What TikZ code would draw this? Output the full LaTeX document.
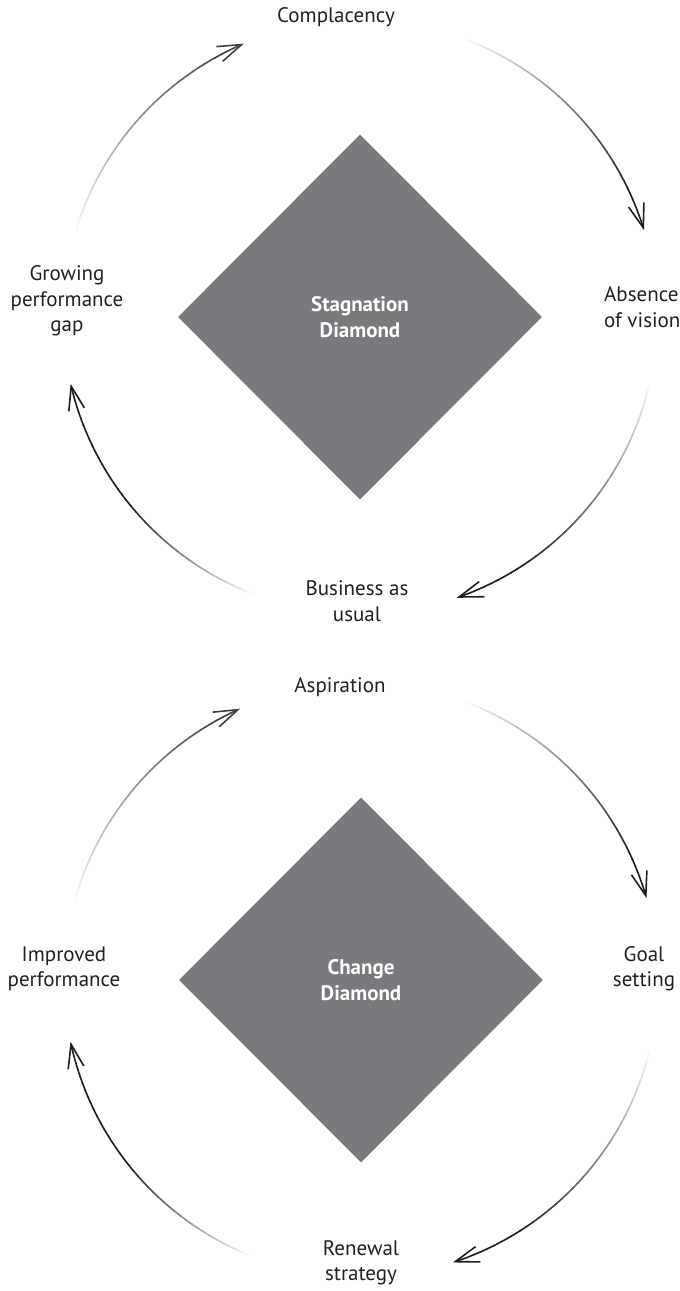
\documentclass[tikz,border=0pt]{standalone}
\usepackage{fontspec}
\setmainfont{PT Sans}
\usetikzlibrary{shapes.geometric, arrows.meta, calc}

\definecolor{diamondgray}{RGB}{121,122,126}
\definecolor{arrowdark}{RGB}{30,30,30}
\definecolor{labeltext}{RGB}{35,31,32}
\newcommand{\labelfont}{\fontsize{21}{25.5}\selectfont}

% faded arc round a diamond: centre node, start angle, end angle, darkness
\newcommand{\fadedarc}[4]{%
  \foreach \i in {0,...,35}{%
    \pgfmathsetmacro{\aa}{#2+(#3-#2)*\i/40}%
    \pgfmathsetmacro{\ab}{#2+(#3-#2)*(\i+1.1)/40}%
    \pgfmathsetmacro{\sh}{min(100,4+(#4-4)*\i/36)}%
    \draw[arcline, draw=arrowdark!\sh] ($(#1)+(\aa:297pt)$) arc[start angle=\aa, end angle=\ab, radius=297pt];
  }%
  \pgfmathsetmacro{\aa}{#2+(#3-#2)*36/40}%
  \pgfmathsetmacro{\sh}{min(100,#4)}%
  \draw[arcline, draw=arrowdark!\sh, -{Straight Barb[length=24pt, width=16pt]}] ($(#1)+(\aa:297pt)$) arc[start angle=\aa, end angle=#3, radius=297pt];
}

\begin{document}
\begin{tikzpicture}[x=1pt, y=1pt]
    % Define styles
    \tikzset{
        diamondbox/.style={diamond, fill=diamondgray, minimum width=364pt, minimum height=365pt, inner sep=0pt, text=white, font=\labelfont\bfseries, align=center},
        labelbox/.style={font=\labelfont, text=labeltext, align=center, inner sep=0pt},
        arcline/.style={line width=1.6pt}
    }
    \useasboundingbox (0,0) rectangle (680,1291);

    % Stagnation diamond
    \node[diamondbox] (stag) at (360,974) {Stagnation\\Diamond};
    \node[labelbox] (cmp) at (336,1274) {Complacency};
    \node[labelbox, align=left, anchor=west] (abs) at (604,984) {Absence\\of vision};
    \node[labelbox] (bau) at (357,690) {Business as\\usual};
    \node[labelbox] (gpg) at (67,990) {Growing\\performance\\gap};

    % Arcs round the stagnation diamond
    \fadedarc{stag}{69}{17}{110}
    \fadedarc{stag}{-13}{-71}{120}
    \fadedarc{stag}{-111}{-167}{170}
    \fadedarc{stag}{163}{113}{85}

    % Change diamond
    \node[diamondbox] (chg) at (361,311) {Change\\Diamond};
    \node[labelbox] (asp) at (340,604) {Aspiration};
    \node[labelbox] (goal) at (644,322) {Goal\\setting};
    \node[labelbox] (ren) at (361,28) {Renewal\\strategy};
    \node[labelbox] (imp) at (64,322) {Improved\\performance};

    % Arcs round the change diamond
    \fadedarc{chg}{69}{16}{110}
    \fadedarc{chg}{-14}{-72}{120}
    \fadedarc{chg}{-112}{-168}{170}
    \fadedarc{chg}{164}{114}{85}

\end{tikzpicture}
\end{document}
